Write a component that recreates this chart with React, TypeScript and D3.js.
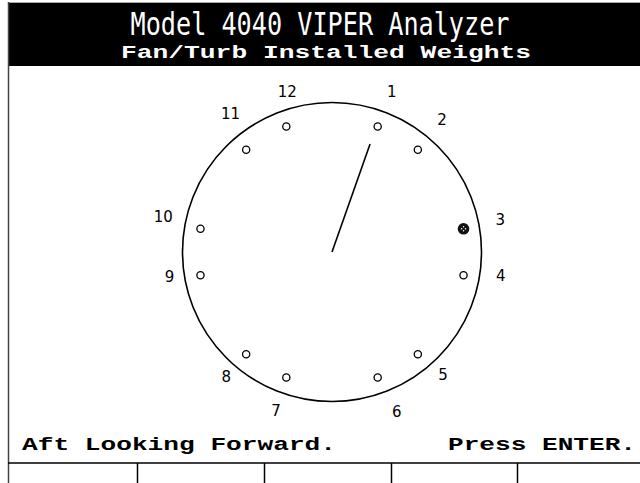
import React from "react";
import * as d3 from "d3";

const titleText = "Model 4040 VIPER Analyzer";
const subtitleText = "Fan/Turb Installed Weights";
const footerLeft = "Aft Looking Forward.";
const footerRight = "Press ENTER.";

const holeLabels = ["1", "2", "3", "4", "5", "6", "7", "8", "9", "10", "11", "12"];
const holeAngles = [20, 40, 80, 100, 140, 160, 200, 220, 260, 280, 320, 340];
const labelAngles = [20.4, 39.7, 79, 97.8, 137.9, 157.9, 199.4, 220.3, 261.3, 282, 323.7, 344.4];
const labelRadii = [172, 173, 172, 171, 166, 173, 169, 164, 165, 173, 172, 167];
const installedHoles = ["3"];
const vectorAngle = 19.4;
const vectorMagnitude = 115;
const softKeys = ["", "", "", "", ""];

const W = 640;
const H = 483;
const cx = 332;
const cy = 252;

export default function App() {
  const rScale = d3.scaleLinear().domain([0, 150]).range([0, 149.5]);
  const aScale = d3.scaleLinear().domain([0, 360]).range([0, 2 * Math.PI]);
  const pos = (angle: number, r: number): [number, number] => {
    const a = aScale(angle);
    const rr = rScale(r);
    return [cx + rr * Math.sin(a), cy - rr * Math.cos(a)];
  };
  const holeR = 134;
  const vEnd = pos(vectorAngle, vectorMagnitude);
  const keyX = d3.scaleLinear().domain([0, softKeys.length]).range([10.5, 644]);
  const mono = "'Liberation Mono', 'DejaVu Sans Mono', monospace";

  return (
    <svg
      width={W}
      height={H}
      style={{ position: "absolute", left: 0, top: 0, background: "#fff" }}
    >
      <rect x={0} y={0} width={W} height={H} fill="#fff" />
      {/* header */}
      <rect x={9} y={3} width={W - 9} height={63} fill="#000" />
      <line x1={8} y1={2.5} x2={W} y2={2.5} stroke="#a8a8a8" strokeWidth={1} />
      <line x1={8.5} y1={2} x2={8.5} y2={H} stroke="#444" strokeWidth={1.5} />
      <text
        x={320}
        y={35}
        fill="#fff"
        fontFamily="'DejaVu Sans Mono', monospace"
        fontSize={32}
        textLength={379}
        lengthAdjust="spacingAndGlyphs"
        textAnchor="middle"
      >
        {titleText}
      </text>
      <text
        x={326}
        y={58}
        fill="#fff"
        fontFamily={mono}
        fontWeight="bold"
        fontSize={19}
        textLength={410}
        lengthAdjust="spacingAndGlyphs"
        textAnchor="middle"
      >
        {subtitleText}
      </text>

      {/* rotor circle */}
      <circle cx={cx} cy={cy} r={rScale(150)} fill="none" stroke="#000" strokeWidth={1.6} />

      {/* holes */}
      {holeAngles.map((a, i) => {
        const [x, y] = pos(a, holeR);
        const installed = installedHoles.includes(holeLabels[i]);
        return installed ? (
          <g key={i}>
            <circle cx={x} cy={y} r={5.8} fill="#111" />
            <circle cx={x} cy={y - 2} r={0.8} fill="#fff" />
            <circle cx={x} cy={y + 2} r={0.8} fill="#fff" />
            <circle cx={x - 2} cy={y} r={0.8} fill="#fff" />
            <circle cx={x + 2} cy={y} r={0.8} fill="#fff" />
          </g>
        ) : (
          <circle key={i} cx={x} cy={y} r={3.6} fill="none" stroke="#000" strokeWidth={1.3} />
        );
      })}

      {/* labels */}
      {holeLabels.map((t, i) => {
        const [x, y] = pos(labelAngles[i], labelRadii[i]);
        return (
          <text
            key={t}
            x={x}
            y={y + 5.5}
            textAnchor="middle"
            fontFamily="'DejaVu Sans', sans-serif"
            fontSize={15}
            fill="#000"
          >
            {t}
          </text>
        );
      })}

      {/* vector */}
      <line x1={cx} y1={cy} x2={vEnd[0]} y2={vEnd[1]} stroke="#000" strokeWidth={1.6} />

      {/* footer */}
      <text
        x={22}
        y={450}
        fontFamily={mono}
        fontWeight="bold"
        fontSize={19}
        textLength={314}
        lengthAdjust="spacingAndGlyphs"
        fill="#000"
      >
        {footerLeft}
      </text>
      <text
        x={636}
        y={450}
        fontFamily={mono}
        fontWeight="bold"
        fontSize={19}
        textLength={188}
        lengthAdjust="spacingAndGlyphs"
        textAnchor="end"
        fill="#000"
      >
        {footerRight}
      </text>
      <line x1={8} y1={463} x2={W} y2={463} stroke="#000" strokeWidth={1.5} />
      {softKeys.slice(1).map((_, i) => {
        const x = keyX(i + 1);
        const xx = Math.round(x) + 0.5;
        return <line key={i} x1={xx} y1={463} x2={xx} y2={H} stroke="#000" strokeWidth={1.5} />;
      })}
    </svg>
  );
}
